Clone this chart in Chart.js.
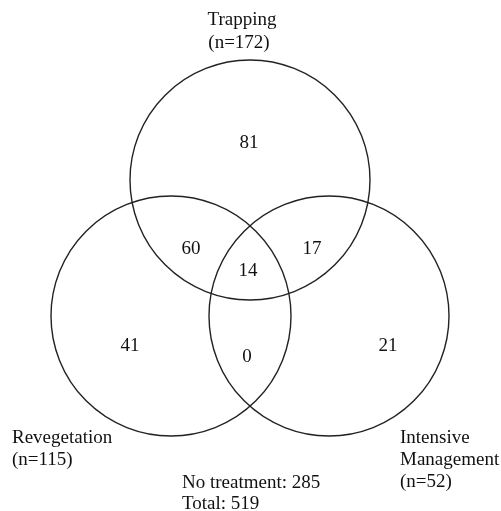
<!DOCTYPE html>
<html>
<head>
<meta charset="utf-8">
<script src="https://cdn.jsdelivr.net/npm/chart.js@4/dist/chart.umd.min.js"></script>
<style>
  html, body { margin: 0; padding: 0; background: #fff; }
  #wrap { width: 501px; height: 511px; }
</style>
</head>
<body>
<div id="wrap"><canvas id="venn"></canvas></div>
<script>
// sets and their sizes
const setNames = ['Trapping', 'Revegetation', 'Intensive Management'];
const setSizes = [172, 115, 52];

// region counts: T only, T+R, T+I, T+R+I, R only, R+I, I only
const regionNames = ['T', 'TR', 'TI', 'TRI', 'R', 'RI', 'I'];
const regionCounts = [81, 60, 17, 14, 41, 0, 21];

const noTreatment = 285;
const total = 519;

// layout (pixel-like units of the drawing)
const circleCenters = [[250, 180], [171, 316], [329, 316]];
const circleRadius = 120;
const regionSpots = [[249, 143], [191, 249], [312, 249], [248, 271], [130, 346], [247, 357], [388, 346]];

const FONT = '"Liberation Serif", "DejaVu Serif", serif';

const textPlugin = {
  id: 'vennText',
  afterDatasetsDraw(chart) {
    const ctx = chart.ctx;
    const xs = chart.scales.x, ys = chart.scales.y;
    const put = (txt, x, y, align) => {
      ctx.textAlign = align || 'center';
      ctx.fillText(txt, xs.getPixelForValue(x), ys.getPixelForValue(y));
    };
    ctx.save();
    ctx.fillStyle = '#111';
    ctx.textBaseline = 'middle';
    ctx.font = '19px ' + FONT;

    regionCounts.forEach((c, i) => put(String(c), regionSpots[i][0], regionSpots[i][1]));

    put(setNames[0], 242, 20);
    put('(n=' + setSizes[0] + ')', 239, 43);

    put(setNames[1], 12, 438, 'left');
    put('(n=' + setSizes[1] + ')', 12, 460, 'left');

    put('Intensive', 400, 438, 'left');
    put('Management', 400, 460, 'left');
    put('(n=' + setSizes[2] + ')', 400, 482, 'left');

    put('No treatment: ' + noTreatment, 182, 483, 'left');
    put('Total: ' + total, 182, 504, 'left');
    ctx.restore();
  }
};

new Chart(document.getElementById('venn'), {
  type: 'bubble',
  data: {
    datasets: [{
      label: 'sets',
      data: circleCenters.map(c => ({ x: c[0], y: c[1], r: circleRadius })),
      backgroundColor: 'rgba(0,0,0,0)',
      borderColor: '#222',
      borderWidth: 1.4,
      hoverRadius: 0,
      clip: false
    }]
  },
  options: {
    responsive: true,
    maintainAspectRatio: false,
    animation: false,
    events: [],
    layout: { padding: 0, autoPadding: false },
    plugins: { legend: { display: false }, tooltip: { enabled: false } },
    scales: {
      x: { type: 'linear', min: 0, max: 501, display: false },
      y: { type: 'linear', min: 0, max: 511, reverse: true, display: false }
    }
  },
  plugins: [textPlugin]
});
</script>
</body>
</html>
